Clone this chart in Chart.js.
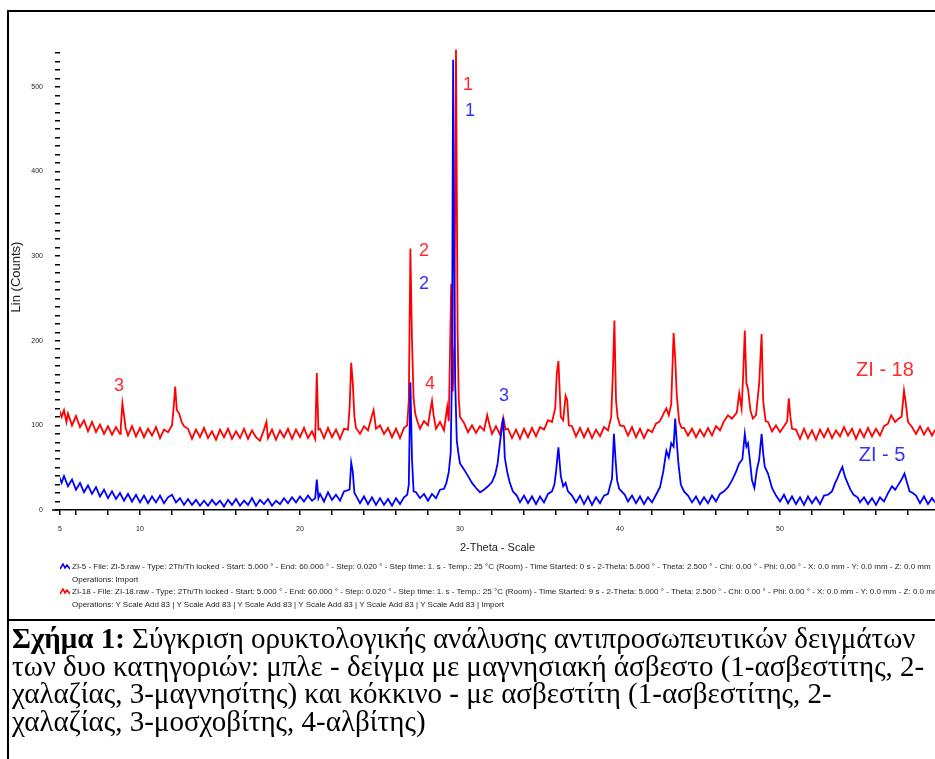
<!DOCTYPE html>
<html>
<head>
<meta charset="utf-8">
<script src="https://cdn.jsdelivr.net/npm/chart.js@4"></script>
<style>
body { margin: 0; background: #fff; }
#page { position: relative; width: 935px; height: 759px; overflow: hidden; background: #fff; }
#xrd { position: absolute; left: 0; top: 0; }
.rule { position: absolute; background: #000; }
#ytitle { position: absolute; left: 15px; top: 277px; transform: translate(-50%, -50%) rotate(-90deg);
  font: 13px Arial, "Liberation Sans", sans-serif; color: #222; white-space: nowrap; }
#legend { position: absolute; left: 60px; top: 561px; font: 8px Arial, "Liberation Sans", sans-serif;
  line-height: 12.5px; color: #222; white-space: nowrap; }
#legend .ind { padding-left: 12px; }
#legend svg { vertical-align: -1px; margin-right: 2px; }
#caption { position: absolute; left: 12px; top: 625px; font: 29px "Liberation Serif", "Times New Roman", serif;
  line-height: 27.5px; color: #000; white-space: nowrap; }
</style>
</head>
<body>
<div id="page">
  <canvas id="xrd" width="935" height="620"></canvas>
  <div class="rule" style="left:7px;top:10px;width:2px;height:749px"></div>
  <div class="rule" style="left:7px;top:10px;width:928px;height:2px"></div>
  <div class="rule" style="left:7px;top:619px;width:928px;height:2px"></div>
  <div id="ytitle">Lin (Counts)</div>
  <div id="legend">
    <div><svg width="10" height="7"><polyline points="0,6 3,1 5,5 7,2 10,6" stroke="#0000ff" fill="none" stroke-width="1.5"/></svg>ZI-5 - File: ZI-5.raw - Type: 2Th/Th locked - Start: 5.000 ° - End: 60.000 ° - Step: 0.020 ° - Step time: 1. s - Temp.: 25 °C (Room) - Time Started: 0 s - 2-Theta: 5.000 ° - Theta: 2.500 ° - Chi: 0.00 ° - Phi: 0.00 ° - X: 0.0 mm - Y: 0.0 mm - Z: 0.0 mm</div>
    <div class="ind">Operations: Import</div>
    <div><svg width="10" height="7"><polyline points="0,6 3,1 5,5 7,2 10,6" stroke="#ff0000" fill="none" stroke-width="1.5"/></svg>ZI-18 - File: ZI-18.raw - Type: 2Th/Th locked - Start: 5.000 ° - End: 60.000 ° - Step: 0.020 ° - Step time: 1. s - Temp.: 25 °C (Room) - Time Started: 9 s - 2-Theta: 5.000 ° - Theta: 2.500 ° - Chi: 0.00 ° - Phi: 0.00 ° - X: 0.0 mm - Y: 0.0 mm - Z: 0.0 mm</div>
    <div class="ind">Operations: Y Scale Add 83 | Y Scale Add 83 | Y Scale Add 83 | Y Scale Add 83 | Y Scale Add 83 | Y Scale Add 83 | Import</div>
  </div>
  <div id="caption"><b>Σχήμα 1:</b> Σύγκριση ορυκτολογικής ανάλυσης αντιπροσωπευτικών δειγμάτων<br>των δυο κατηγοριών: μπλε - δείγμα με μαγνησιακή άσβεστο (1-ασβεστίτης, 2-<br>χαλαζίας, 3-μαγνησίτης) και κόκκινο - με ασβεστίτη (1-ασβεστίτης, 2-<br>χαλαζίας, 3-μοσχοβίτης, 4-αλβίτης)</div>
</div>
<script>
// ZI-18 (red), offset upward in the original plot: [2-theta, counts]
var redScan = [
  [4.9,121],[5.1,110],[5.25,118],[5.4,104],[5.5,114],[5.75,100],[6.0,111],[6.25,98],[6.5,106],[6.75,93],
  [7.0,104],[7.25,92],[7.5,101],[7.75,90],[8.0,99],[8.25,89],[8.5,98],[8.75,90],[8.8,98],[8.9,126],
  [9.0,112],[9.1,97],[9.25,88],[9.5,99],[9.75,87],[10.0,97],[10.25,86],[10.5,96],[10.75,88],[11.0,98],
  [11.25,85],[11.5,95],[11.75,92],[12.0,100],[12.1,120],[12.2,146],[12.3,118],[12.45,114],[12.6,104],[12.75,99],
  [13.0,96],[13.25,84],[13.5,95],[13.75,86],[14.0,97],[14.25,85],[14.5,93],[14.75,83],[15.0,95],[15.25,86],
  [15.5,96],[15.75,84],[16.0,93],[16.25,85],[16.5,96],[16.75,84],[17.0,94],[17.25,86],[17.5,82],[17.75,95],
  [17.9,104],[18.0,85],[18.25,95],[18.5,83],[18.75,94],[19.0,86],[19.25,96],[19.5,84],[19.75,95],[20.0,86],
  [20.25,97],[20.5,85],[20.75,93],[20.95,84],[21.05,162],[21.15,95],[21.25,96],[21.5,85],[21.75,97],[22.0,86],
  [22.25,95],[22.5,84],[22.75,96],[23.0,95],[23.1,121],[23.2,174],[23.3,150],[23.4,110],[23.5,97],[23.75,90],
  [24.0,99],[24.25,94],[24.5,112],[24.6,118],[24.75,96],[25.0,100],[25.25,90],[25.5,97],[25.75,86],[26.0,96],
  [26.25,85],[26.5,97],[26.7,100],[26.8,130],[26.9,309],[27.0,200],[27.1,132],[27.2,114],[27.35,104],[27.5,96],
  [27.75,105],[28.0,100],[28.15,118],[28.25,129],[28.35,112],[28.5,96],[28.75,104],[29.0,94],[29.2,122],[29.3,105],
  [29.45,267],[29.55,140],[29.65,200],[29.75,544],[29.85,212],[29.92,133],[30.0,110],[30.25,103],[30.5,92],[30.75,100],
  [31.0,91],[31.25,99],[31.5,94],[31.7,112],[31.85,100],[32.0,90],[32.25,99],[32.5,89],[32.7,109],[32.85,95],
  [33.0,96],[33.25,85],[33.5,95],[33.75,84],[34.0,96],[34.25,86],[34.5,97],[34.75,87],[35.0,98],[35.25,95],
  [35.5,106],[35.75,104],[35.95,120],[36.05,161],[36.15,176],[36.3,110],[36.45,106],[36.6,135],[36.7,130],[36.8,100],
  [37.0,99],[37.25,87],[37.5,97],[37.75,86],[38.0,96],[38.25,85],[38.5,95],[38.75,87],[39.0,98],[39.25,94],
  [39.45,110],[39.55,160],[39.65,224],[39.75,130],[39.85,110],[40.0,100],[40.25,99],[40.5,88],[40.75,98],[41.0,86],
  [41.25,96],[41.5,85],[41.75,95],[42.0,92],[42.25,102],[42.5,105],[42.75,115],[42.9,120],[43.05,112],[43.2,125],
  [43.35,209],[43.45,180],[43.55,135],[43.7,104],[43.85,97],[44.0,97],[44.25,88],[44.5,96],[44.75,86],[45.0,95],
  [45.25,87],[45.5,97],[45.75,88],[46.0,99],[46.25,94],[46.5,105],[46.75,112],[47.0,108],[47.3,115],[47.45,138],
  [47.6,120],[47.7,160],[47.8,212],[47.9,150],[48.0,143],[48.15,118],[48.3,108],[48.5,112],[48.7,150],[48.85,208],
  [48.95,129],[49.1,105],[49.25,104],[49.5,93],[49.75,100],[50.0,92],[50.25,99],[50.45,105],[50.55,132],[50.65,110],
  [50.75,96],[51.0,95],[51.25,84],[51.5,96],[51.75,85],[52.0,94],[52.25,83],[52.5,95],[52.75,86],[53.0,96],
  [53.25,85],[53.5,94],[53.75,87],[54.0,98],[54.25,88],[54.5,96],[54.75,84],[55.0,95],[55.25,86],[55.5,97],
  [55.75,87],[56.0,96],[56.25,88],[56.5,99],[56.75,102],[56.95,112],[57.2,104],[57.4,108],[57.6,110],[57.75,141],
  [57.85,128],[58.0,104],[58.25,98],[58.5,90],[58.75,99],[59.0,89],[59.25,97],[59.5,88],[59.7,95]
];

// ZI-5 (blue): [2-theta, counts]
var blueScan = [
  [4.9,42],[5.1,32],[5.25,40],[5.5,28],[5.75,36],[6.0,24],[6.25,32],[6.5,21],[6.75,29],[7.0,19],
  [7.25,27],[7.5,16],[7.75,24],[8.0,14],[8.25,22],[8.5,13],[8.75,20],[9.0,11],[9.25,19],[9.5,10],
  [9.75,18],[10.0,9],[10.25,17],[10.5,8],[10.75,16],[11.0,9],[11.25,17],[11.5,8],[11.75,15],[12.0,18],
  [12.25,9],[12.5,14],[12.75,6],[13.0,13],[13.25,6],[13.5,12],[13.75,5],[14.0,11],[14.25,5],[14.5,12],
  [14.75,6],[15.0,11],[15.25,4],[15.5,12],[15.75,6],[16.0,13],[16.25,5],[16.5,11],[16.75,6],[17.0,14],
  [17.25,5],[17.5,12],[17.75,7],[18.0,13],[18.25,5],[18.5,11],[18.75,7],[19.0,14],[19.25,8],[19.5,15],
  [19.75,9],[20.0,16],[20.25,10],[20.5,17],[20.75,11],[20.95,14],[21.05,36],[21.15,14],[21.25,19],[21.5,10],
  [21.75,21],[22.0,12],[22.25,18],[22.5,11],[22.75,22],[23.1,24],[23.2,56],[23.3,45],[23.4,20],[23.5,17],
  [23.75,8],[24.0,16],[24.25,7],[24.5,15],[24.75,6],[25.0,14],[25.25,6],[25.5,13],[25.75,5],[26.0,14],
  [26.25,7],[26.5,15],[26.7,18],[26.8,30],[26.9,151],[27.0,60],[27.1,22],[27.25,21],[27.5,14],[27.75,19],
  [28.0,11],[28.25,19],[28.5,14],[28.75,24],[29.0,25],[29.15,32],[29.3,45],[29.42,68],[29.5,168],[29.57,532],
  [29.63,300],[29.7,150],[29.8,82],[29.9,67],[30.0,55],[30.25,48],[30.5,40],[30.75,32],[31.0,26],[31.25,21],
  [31.5,24],[31.75,28],[32.0,33],[32.2,42],[32.35,55],[32.5,80],[32.7,109],[32.8,62],[32.95,45],[33.1,33],
  [33.3,22],[33.55,17],[33.75,9],[34.0,17],[34.25,8],[34.5,16],[34.75,7],[35.0,16],[35.25,9],[35.5,19],
  [35.75,22],[35.9,30],[36.0,45],[36.15,74],[36.3,40],[36.45,28],[36.6,32],[36.75,22],[37.0,17],[37.25,9],
  [37.5,17],[37.75,7],[38.0,16],[38.25,6],[38.5,15],[38.75,8],[39.0,17],[39.25,19],[39.4,30],[39.5,37],
  [39.62,90],[39.72,60],[39.82,35],[39.95,25],[40.1,22],[40.3,18],[40.5,10],[40.75,17],[41.0,8],[41.25,16],
  [41.5,7],[41.75,15],[42.0,9],[42.25,18],[42.5,27],[42.7,45],[42.9,70],[43.05,62],[43.2,79],[43.35,75],
  [43.45,108],[43.55,80],[43.65,55],[43.8,30],[44.0,22],[44.25,17],[44.5,9],[44.75,16],[45.0,7],[45.25,15],
  [45.5,8],[45.75,17],[46.0,10],[46.25,19],[46.5,22],[46.75,27],[47.0,35],[47.25,45],[47.45,55],[47.65,60],
  [47.8,90],[47.9,75],[48.0,79],[48.1,62],[48.25,35],[48.4,26],[48.55,47],[48.7,60],[48.85,90],[48.95,67],
  [49.05,51],[49.25,43],[49.5,26],[49.75,17],[50.0,10],[50.25,18],[50.5,8],[50.75,16],[51.0,7],[51.25,15],
  [51.5,6],[51.75,16],[52.0,8],[52.25,15],[52.5,7],[52.75,17],[53.0,18],[53.25,22],[53.45,32],[53.6,38],
  [53.75,45],[53.9,51],[54.05,40],[54.2,33],[54.4,24],[54.6,18],[54.85,15],[55.0,9],[55.25,15],[55.5,7],
  [55.75,14],[56.0,6],[56.25,15],[56.5,10],[56.75,20],[57.0,28],[57.2,24],[57.4,30],[57.6,36],[57.78,43],
  [57.9,35],[58.1,22],[58.3,20],[58.5,17],[58.75,8],[59.0,16],[59.25,7],[59.5,14],[59.7,9]
];

var xTicks = [5,6,8,10,12,14,16,18,20,22,24,26,28,30,32,34,36,38,40,42,44,46,48,50,52,54,56,58];
var xTickLabels = [5,10,20,30,40,50];
var yTickLabels = [0,100,200,300,400,500];
var yTickTop = 540;

var RED = '#ff0000', BLUE = '#0000ff';

// peak numbers and sample names, anchored in data units
var peakNotes = [
  { text: '1', x: 30.5, y: 502, color: '#ff2a2a', size: 18 },
  { text: '1', x: 30.62, y: 471, color: '#3333ff', size: 18 },
  { text: '2', x: 27.75, y: 306, color: '#ff2a2a', size: 18 },
  { text: '2', x: 27.75, y: 267, color: '#3333ff', size: 18 },
  { text: '3', x: 8.69, y: 147, color: '#ff2a2a', size: 18 },
  { text: '4', x: 28.12, y: 149, color: '#ff2a2a', size: 18 },
  { text: '3', x: 32.75, y: 135, color: '#3333ff', size: 18 },
  { text: 'ZI - 18', x: 56.56, y: 165, color: '#ff2a2a', size: 20 },
  { text: 'ZI - 5', x: 56.38, y: 64, color: '#3333ff', size: 20 }
];

var notesPlugin = {
  id: 'notes',
  afterDatasetsDraw: function (chart) {
    var ctx = chart.ctx, x = chart.scales.x, y = chart.scales.y;
    ctx.save();
    ctx.textAlign = 'center';
    ctx.textBaseline = 'middle';
    peakNotes.forEach(function (n) {
      ctx.font = n.size + 'px Arial, "Liberation Sans", sans-serif';
      ctx.fillStyle = n.color;
      ctx.fillText(n.text, x.getPixelForValue(n.x), y.getPixelForValue(n.y));
    });
    // the 2-theta axis line runs a little to the left of the first tick
    var a = chart.chartArea;
    ctx.strokeStyle = '#000';
    ctx.lineWidth = 1.5;
    ctx.beginPath();
    ctx.moveTo(a.left - 8, a.bottom);
    ctx.lineTo(a.left, a.bottom);
    ctx.stroke();
    ctx.restore();
  }
};

function toPoints(scan) {
  return scan.map(function (p) { return { x: p[0], y: p[1] }; });
}

var ctx = document.getElementById('xrd').getContext('2d');
var xrdChart = new Chart(ctx, {
  type: 'line',
  data: {
    datasets: [{
      label: 'ZI - 5',
      data: toPoints(blueScan),
      borderColor: BLUE,
      borderWidth: 1.8,
      pointRadius: 0,
      tension: 0
    }, {
      label: 'ZI - 18',
      data: toPoints(redScan),
      borderColor: RED,
      borderWidth: 1.8,
      pointRadius: 0,
      tension: 0
    }]
  },
  options: {
    responsive: false,
    animation: false,
    devicePixelRatio: 1,
    layout: { padding: 0 },
    plugins: { legend: { display: false }, tooltip: { enabled: false } },
    scales: {
      x: {
        type: 'linear',
        min: 5,
        max: 59.6875,
        afterFit: function (s) { s.height = 110; },
        afterBuildTicks: function (s) { s.ticks = xTicks.map(function (v) { return { value: v }; }); },
        border: { display: true, color: '#000', width: 1.5 },
        grid: { drawOnChartArea: false, drawTicks: true, tickLength: 5, color: '#000', lineWidth: 1.5 },
        ticks: {
          autoSkip: false, maxRotation: 0, padding: 10, color: '#222',
          font: { size: 7, family: 'Arial, "Liberation Sans", sans-serif' },
          callback: function (v) { return xTickLabels.indexOf(v) >= 0 ? String(v) : ''; }
        },
        title: {
          display: true, text: '2-Theta - Scale', color: '#222',
          font: { size: 11, family: 'Arial, "Liberation Sans", sans-serif' },
          padding: { top: 0, bottom: 65 }
        }
      },
      y: {
        min: 0,
        max: 583.5,
        afterFit: function (s) { s.width = 60; },
        afterBuildTicks: function (s) { s.ticks = s.ticks.filter(function (t) { return t.value <= yTickTop; }); },
        border: { display: false },
        grid: { drawOnChartArea: false, drawTicks: true, tickLength: 5, color: '#000', lineWidth: 1.5 },
        ticks: {
          stepSize: 10, autoSkip: false, padding: 12, color: '#222',
          font: { size: 7, family: 'Arial, "Liberation Sans", sans-serif' },
          callback: function (v) { return yTickLabels.indexOf(v) >= 0 ? String(v) : ''; }
        }
      }
    }
  },
  plugins: [notesPlugin]
});
</script>
</body>
</html>
